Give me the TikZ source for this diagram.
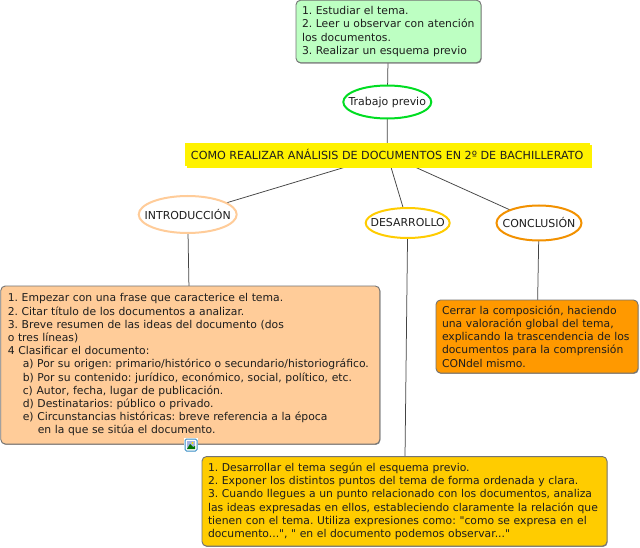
\documentclass[tikz,border=0pt]{standalone}
\usepackage{fontspec}
\setmainfont[Ligatures=TeXOff]{DejaVu Sans}
\usetikzlibrary{shapes.geometric,shadows,backgrounds}
\definecolor{txt}{HTML}{1E1E1E}
\definecolor{bgreen}{HTML}{BDFFC2}
\definecolor{bpeach}{HTML}{FFCC99}
\definecolor{bgold}{HTML}{FFCC00}
\definecolor{borange}{HTML}{FF9900}
\definecolor{egreen}{HTML}{00DD22}
\definecolor{conn}{HTML}{444444}
\newcommand{\ctr}[1]{\makebox[0pt][c]{#1}}
\newcommand{\nobrk}{\rightskip=-40pt plus 1fil\relax\hyphenpenalty=10000\relax}
\tikzset{
  x=1pt,y=-1pt,
  every node/.style={text=txt,font=\fontsize{10.95}{13.2}\selectfont\frenchspacing,inner sep=0pt,outer sep=0pt},
  tbox/.style={rectangle,rounded corners=4.5pt,draw=black!55,line width=0.9pt,align=left,anchor=center,
    font=\fontsize{10.8}{13.2}\selectfont\frenchspacing,
    drop shadow={shadow xshift=0.6pt,shadow yshift=-0.9pt,fill=black!55,opacity=0.8}},
  oval/.style={ellipse,fill=white,line width=2pt,align=center},
  link/.style={draw=conn,line width=0.75pt},
}
\begin{document}
\begin{tikzpicture}
\useasboundingbox (0,0) rectangle (640,548);
% oval topics
\node[oval,draw=egreen,minimum width=88pt,minimum height=33pt] (prev) at (387.3,102) {\ctr{Trabajo previo}};
\node[rectangle,fill=yellow,minimum width=405pt,minimum height=23pt,font=\fontsize{11.15}{13.2}\selectfont,
  drop shadow={shadow xshift=2pt,shadow yshift=-2pt,fill=yellow,opacity=1}] (title) at (387.2,154.5) {COMO REALIZAR ANÁLISIS DE DOCUMENTOS EN 2º DE BACHILLERATO};
\node[oval,draw=bpeach,minimum width=98pt,minimum height=37pt] (intro) at (187.7,214.5) {\ctr{INTRODUCCIÓN}};
\node[oval,draw=bgold,minimum width=84pt,minimum height=30pt] (des) at (407.7,223) {\ctr{DESARROLLO}};
\node[oval,draw=borange!95!black,minimum width=85pt,minimum height=35pt] (con) at (539,223) {\ctr{CONCLUSIÓN}};
% text boxes
\node[tbox,fill=bgreen,minimum width=185pt,minimum height=62.5pt,text width=173pt] (tgreen) at (388.5,31.5) {\nobrk 1. Estudiar el tema.\\2. Leer u observar con atención\\los documentos.\\3. Realizar un esquema previo};
\node[tbox,fill=bpeach,minimum width=379pt,minimum height=158pt,text width=365pt] (tintro) at (190.3,365) {\nobrk 1. Empezar con una frase que caracterice el tema.\\2. Citar título de los documentos a analizar.\\3. Breve resumen de las ideas del documento (dos\\o tres líneas)\\4 Clasificar el documento:\\
\hspace*{15pt}a) Por su origen: primario/histórico o secundario/historiográfico.\\
\hspace*{15pt}b) Por su contenido: jurídico, económico, social, político, etc.\\
\hspace*{15pt}c) Autor, fecha, lugar de publicación.\\
\hspace*{15pt}d) Destinatarios: público o privado.\\
\hspace*{15pt}e) Circunstancias históricas: breve referencia a la época\\
\hspace*{30pt}en la que se sitúa el documento.};
\node[tbox,fill=borange,minimum width=202pt,minimum height=73pt,text width=190pt] (tcon) at (537,336.5) {\nobrk Cerrar la composición, haciendo\\una valoración global del tema,\\explicando la trascendencia de los\\documentos para la comprensión\\CONdel mismo.};
\node[tbox,fill=bgold,minimum width=405pt,minimum height=89.5pt,text width=393pt] (tdes) at (404.5,501.3) {\nobrk 1. Desarrollar el tema según el esquema previo.\\2. Exponer los distintos puntos del tema de forma ordenada y clara.\\3. Cuando llegues a un punto relacionado con los documentos, analiza\\las ideas expresadas en ellos, estableciendo claramente la relación que\\tienen con el tema. Utiliza expresiones como: "como se expresa en el\\documento...", " en el documento podemos observar..."};
\begin{scope}[on background layer]
\fill[white] (0,0) rectangle (640,548);
\draw[link] (tgreen) -- (prev);
\draw[link] (prev) -- (title);
\draw[link] (title) -- (intro);
\draw[link] (title) -- (des);
\draw[link] (title) -- (con);
\draw[link] (intro) -- (tintro);
\draw[link] (des) -- (tdes);
\draw[link] (con) -- (tcon);
\end{scope}
% image icon
\fill[white] (184,438) rectangle (198,452);
\draw[draw=blue!40!cyan!55!gray,fill=white,line width=1pt,rounded corners=1.5pt] (185,439) rectangle (197,451);
\fill[cyan!35!blue!35] (187,441) rectangle (195,449);
\fill[yellow!80!orange] (192.5,443) circle (1.2);
\fill[green!45!black] (187,449) -- (190,444) -- (193,447) -- (195,446) -- (195,449) -- cycle;
\end{tikzpicture}
\end{document}
